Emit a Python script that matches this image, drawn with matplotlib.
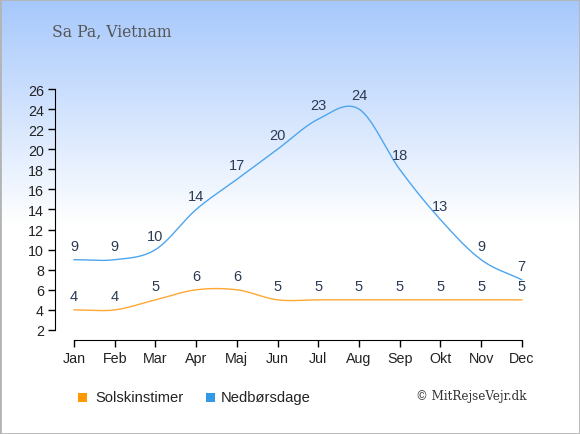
import numpy as np
import matplotlib
matplotlib.use('Agg')
import matplotlib.pyplot as plt
from matplotlib.patches import Rectangle

months = ['Jan', 'Feb', 'Mar', 'Apr', 'Maj', 'Jun', 'Jul', 'Aug', 'Sep', 'Okt', 'Nov', 'Dec']
sun_hours = [4, 4, 5, 6, 6, 5, 5, 5, 5, 5, 5, 5]
rain_days = [9, 9, 10, 14, 17, 20, 23, 24, 18, 13, 9, 7]
y_ticks = [2, 4, 6, 8, 10, 12, 14, 16, 18, 20, 22, 24, 26]

sun_color = '#ff9900'
sun_line = '#ffa733'
rain_color = '#3399e6'
rain_line = '#4ea5ee'
label_color = '#2b3a55'


def catmull_rom(values, steps=30):
    # smooth line through the monthly values, like the original chart
    p = np.asarray(values, dtype=float)
    n = len(p)
    m = np.zeros(n)
    m[1:-1] = (p[2:] - p[:-2]) / 2.0
    m[0] = p[1] - p[0]
    m[-1] = p[-1] - p[-2]
    xs = []
    ys = []
    for i in range(n - 1):
        t = np.linspace(0, 1, steps, endpoint=False)
        h00 = 2 * t**3 - 3 * t**2 + 1
        h10 = t**3 - 2 * t**2 + t
        h01 = -2 * t**3 + 3 * t**2
        h11 = t**3 - t**2
        xs.append(i + t)
        ys.append(h00 * p[i] + h10 * m[i] + h01 * p[i + 1] + h11 * m[i + 1])
    xs.append([n - 1])
    ys.append([p[-1]])
    return np.concatenate(xs), np.concatenate(ys)


fig = plt.figure(figsize=(5.8, 4.35), dpi=100)

# background gradient
bg = fig.add_axes([0, 0, 1, 1], zorder=-10)
H = 435
rows = np.arange(H)
frac = np.clip(rows / 225.0, 0, 1)
top = np.array([166, 200, 252]) / 255.0
grad = top[None, :] * (1 - frac[:, None]) + np.ones(3)[None, :] * frac[:, None]
bg.imshow(grad[:, None, :], aspect='auto', extent=[0, 1, 0, 1])
bg.set_axis_off()
fig.patches.append(Rectangle((0, 0), 1, 1, transform=fig.transFigure, fill=False,
                             edgecolor='#b4b4b4', linewidth=2))

ax = fig.add_axes([55 / 580, 1 - 341 / 435, 479 / 580, (341 - 90) / 435])
ax.set_facecolor('none')
ax.set_xlim(-0.467, 11.3)
ax.set_ylim(1.0, 26)

x = np.arange(len(months))
sx, sy = catmull_rom(sun_hours)
rx, ry = catmull_rom(rain_days)
ax.plot(sx, sy, color=sun_line, linewidth=1)
ax.plot(rx, ry, color=rain_line, linewidth=1)

for i in range(len(months)):
    ax.annotate(str(sun_hours[i]), (x[i], sun_hours[i]), xytext=(0, 10), textcoords='offset points',
                ha='center', va='center', fontsize=10.5, color=label_color, family='Liberation Sans')
    ax.annotate(str(rain_days[i]), (x[i], rain_days[i]), xytext=(0, 10), textcoords='offset points',
                ha='center', va='center', fontsize=10.5, color=label_color, family='Liberation Sans')

ax.set_xticks(x)
ax.set_xticklabels(months)
ax.set_yticks(y_ticks)
for sp in ['top', 'right']:
    ax.spines[sp].set_visible(False)
ax.spines['left'].set_bounds(2, 26)
ax.spines['bottom'].set_bounds(0, 11)
ax.tick_params(axis='both', direction='out', length=5, width=1, labelsize=10.3, pad=3)
for lab in ax.get_xticklabels() + ax.get_yticklabels():
    lab.set_family('Liberation Sans')
    lab.set_color('#222222')

fig.text(52 / 580, 1 - 32 / 435, 'Sa Pa, Vietnam', family='DejaVu Serif', fontstretch='condensed',
         fontsize=12.5, color='#555555', va='center', ha='left')

# legend
fig.patches.append(Rectangle((78 / 580, 1 - 403 / 435), 9 / 580, 9 / 435, transform=fig.transFigure,
                             facecolor=sun_color, edgecolor='none'))
fig.text(95 / 580, 1 - 398 / 435, 'Solskinstimer', family='Liberation Sans', fontsize=10.6,
         color='#222222', va='center', ha='left')
fig.patches.append(Rectangle((206 / 580, 1 - 403 / 435), 9 / 580, 9 / 435, transform=fig.transFigure,
                             facecolor=rain_color, edgecolor='none'))
fig.text(221 / 580, 1 - 398 / 435, 'Nedbørsdage', family='Liberation Sans', fontsize=10.6,
         color='#222222', va='center', ha='left')
fig.text(526 / 580, 1 - 397 / 435, '© MitRejseVejr.dk', family='DejaVu Serif', fontstretch='condensed',
         fontsize=9.5, color='#333333', va='center', ha='right')

fig.savefig('out.png', dpi=100)
